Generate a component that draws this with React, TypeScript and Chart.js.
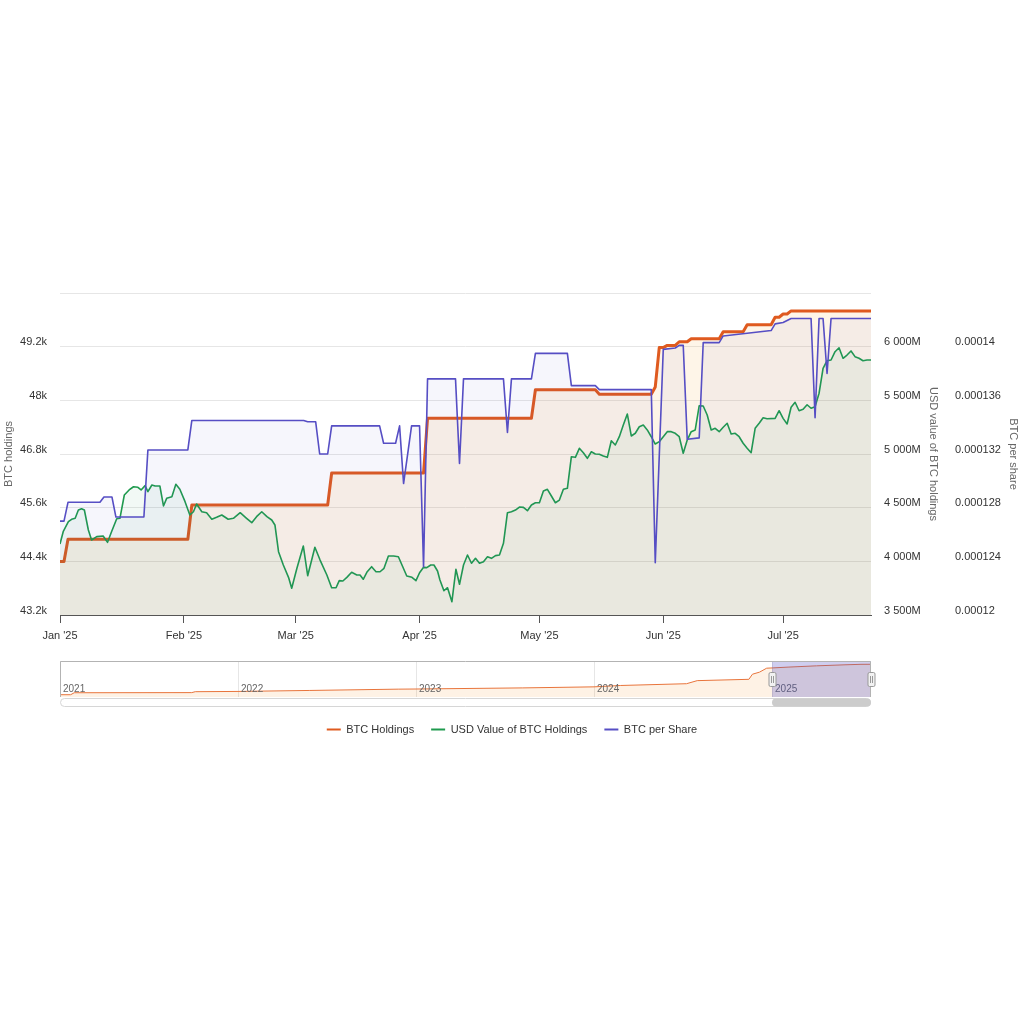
import React, { useEffect, useRef } from 'react';
import { Chart, registerables } from 'chart.js';

Chart.register(...registerables);

const FONT = "'Liberation Sans', Arial, Helvetica, sans-serif";

// x values: days since 1 Jan 2025
const monthStartDays = [0, 31, 59, 90, 120, 151, 181];
const monthLabels = ["Jan '25", "Feb '25", "Mar '25", "Apr '25", "May '25", "Jun '25", "Jul '25"];
const lastDay = 203;

// BTC Holdings (BTC)
const holdingsDays = [0, 1, 2, 32, 33, 67, 68, 91, 92, 118, 119, 134, 135, 148, 149, 150, 151, 152, 154, 155, 157, 158, 165, 166, 171, 172, 178, 179, 180, 181, 182, 183, 203];
const holdingsBtc = [44394, 44394, 44893, 44893, 45659, 45659, 46374, 46374, 47600, 47600, 48237, 48237, 48137, 48137, 48300, 49179, 49179, 49228, 49228, 49310, 49310, 49378, 49378, 49535, 49535, 49690, 49690, 49858, 49858, 49930, 49930, 50000, 50000];

// USD value of BTC holdings (millions)
const usdDays = [0, 0.8, 2.1, 2.9, 3.8, 4.6, 5.4, 6.1, 7.1, 7.9, 9.2, 10.8, 11.9, 12.9, 14.2, 15, 16.1, 17.3, 18.4, 19.5, 20.3, 21.3, 22, 23, 23.8, 25, 25.9, 26.7, 28, 29, 30, 31.3, 32.5, 33.4, 34.2, 35.5, 36.7, 38, 39.2, 40.5, 42.1, 43.4, 45.1, 46.7, 48, 49.2, 50.5, 51.8, 53, 53.8, 54.7, 55.9, 57.2, 58, 59.3, 60.9, 62, 63.8, 65.1, 66.8, 68, 69.1, 69.9, 70.8, 71.8, 73, 74.3, 75.1, 75.9, 76.9, 78, 79.1, 80.1, 81.1, 82.2, 83.5, 84.7, 85.6, 86.8, 88.1, 89.1, 90, 91, 91.8, 92.8, 93.6, 94.5, 95.1, 96.1, 97, 98.1, 99.1, 100, 101, 102, 103, 104, 105, 106, 107, 108, 109, 110, 111, 112, 113, 114, 115, 116, 117, 118, 119, 120, 121, 122, 123, 124, 125, 126, 127, 128, 129, 130, 131, 132, 133, 134, 135, 136, 137, 138, 139, 140, 141, 142, 143, 144, 145, 146, 147, 148, 149, 150, 151, 152, 153, 154, 155, 156, 157, 158, 159, 160, 161, 162, 163, 164, 165, 166, 167, 168, 169, 170, 171, 172, 173, 174, 175, 176, 177, 179, 180, 181, 182, 183, 184, 185, 186, 187, 188, 189, 190, 191, 192, 193, 194, 195, 196, 197, 198, 199, 200, 201, 202, 203];
const usdMillions = [4162, 4276, 4369, 4392, 4401, 4478, 4490, 4478, 4292, 4199, 4230, 4236, 4177, 4276, 4397, 4401, 4618, 4665, 4695, 4690, 4665, 4705, 4649, 4711, 4702, 4702, 4516, 4587, 4602, 4718, 4671, 4556, 4432, 4462, 4534, 4462, 4453, 4392, 4410, 4432, 4392, 4401, 4453, 4401, 4360, 4416, 4462, 4416, 4385, 4339, 4090, 3966, 3851, 3749, 3935, 4143, 3866, 4131, 4012, 3873, 3754, 3754, 3820, 3817, 3851, 3898, 3873, 3873, 3833, 3903, 3950, 3903, 3903, 3935, 4050, 4050, 4043, 3966, 3863, 3851, 3820, 3894, 3944, 3941, 3966, 3966, 3910, 3826, 3726, 3754, 3624, 3926, 3786, 3966, 4059, 3982, 4028, 3982, 3997, 4043, 4028, 4053, 4059, 4168, 4453, 4462, 4478, 4506, 4503, 4472, 4525, 4546, 4546, 4655, 4671, 4609, 4546, 4571, 4671, 4680, 4975, 4969, 5053, 5012, 4960, 5021, 5000, 4997, 4981, 4969, 5124, 5084, 5161, 5270, 5373, 5168, 5193, 5254, 5270, 5224, 5161, 5093, 5115, 5161, 5208, 5208, 5193, 5161, 5007, 5130, 5208, 5224, 5450, 5447, 5363, 5224, 5239, 5208, 5249, 5286, 5186, 5193, 5161, 5100, 5053, 5012, 5239, 5286, 5338, 5329, 5332, 5403, 5332, 5280, 5435, 5482, 5403, 5416, 5459, 5426, 5441, 5566, 5798, 5869, 5876, 5953, 5990, 5892, 5922, 5960, 5907, 5892, 5869, 5876, 5876];

// BTC per share
const perShareDays = [0, 1, 2, 10, 11, 13, 14, 21, 22, 32, 33, 61, 62, 64, 65, 67, 68, 80, 81, 84, 85, 86, 88, 90, 91, 92, 99, 100, 101, 111, 112, 113, 118, 119, 127, 128, 134, 135, 148, 149, 151, 154, 155, 156, 157, 160, 161, 165, 166, 178, 179, 181, 183, 188, 189, 190, 191, 192, 193, 203];
const perShareBtc = [0.0001270, 0.0001270, 0.0001284, 0.0001284, 0.0001288, 0.0001288, 0.0001273, 0.0001273, 0.0001323, 0.0001323, 0.0001345, 0.0001345, 0.0001344, 0.0001344, 0.0001320, 0.0001320, 0.0001341, 0.0001341, 0.0001328, 0.0001328, 0.0001341, 0.0001298, 0.0001341, 0.0001341, 0.0001236, 0.0001376, 0.0001376, 0.0001313, 0.0001376, 0.0001376, 0.0001336, 0.0001376, 0.0001376, 0.0001395, 0.0001395, 0.0001371, 0.0001371, 0.0001368, 0.0001368, 0.0001239, 0.0001398, 0.0001399, 0.0001401, 0.0001401, 0.0001331, 0.0001332, 0.0001403, 0.0001403, 0.0001408, 0.0001412, 0.0001417, 0.0001418, 0.0001421, 0.0001421, 0.0001347, 0.0001421, 0.0001421, 0.0001380, 0.0001421, 0.0001421];

// Axis ticks
const holdTicks = [43200, 44400, 45600, 46800, 48000, 49200, 50400];
const holdTickLabels = ['43.2k', '44.4k', '45.6k', '46.8k', '48k', '49.2k', ''];
const usdTicks = [3500, 4000, 4500, 5000, 5500, 6000, 6500];
const usdTickLabels = ['3 500M', '4 000M', '4 500M', '5 000M', '5 500M', '6 000M', ''];
const perShareTicks = [0.00012, 0.000124, 0.000128, 0.000132, 0.000136, 0.00014, 0.000144];
const perShareTickLabels = ['0.00012', '0.000124', '0.000128', '0.000132', '0.000136', '0.00014', ''];

// Navigator: BTC holdings history (x = fractional year)
const navYears = [2021.0, 2021.06, 2021.08, 2021.74, 2021.76, 2022.0, 2022.4, 2022.9, 2023.0, 2023.6, 2024.0, 2024.15, 2024.52, 2024.58, 2024.87, 2024.89, 2024.93, 2024.97, 2025.0, 2025.09, 2025.25, 2025.41, 2025.5, 2025.556];
const navHoldings = [3500, 3500, 6500, 6700, 8100, 8500, 10000, 12000, 12200, 13900, 15500, 17600, 20300, 25000, 27000, 34800, 38000, 44000, 44394, 45659, 47600, 49179, 49930, 50000];
const navYearTicks = [2021, 2022, 2023, 2024, 2025];
const navYearLabels = ['2021', '2022', '2023', '2024', '2025'];
const navMin = 2021;
const navMax = 2025 + lastDay / 365;
const navSelStart = 2025;

const ORANGE = '#df5a1f';
const GREEN = '#1f9a4e';
const BLUE = '#564ec4';

const navigatorPlugin = {
  id: 'navigatorDecor',
  beforeDatasetsDraw(chart: any) {
    const { ctx, chartArea: ca, scales } = chart;
    ctx.save();
    ctx.strokeStyle = '#e6e6e6';
    ctx.lineWidth = 1;
    navYearTicks.forEach((yr) => {
      const px = Math.round(scales.x.getPixelForValue(yr)) + 0.5;
      ctx.beginPath();
      ctx.moveTo(px, ca.top);
      ctx.lineTo(px, ca.bottom);
      ctx.stroke();
    });
    ctx.restore();
  },
  afterDatasetsDraw(chart: any) {
    const { ctx, chartArea: ca, scales } = chart;
    ctx.save();
    // year labels
    ctx.fillStyle = '#666';
    ctx.font = `10px ${FONT}`;
    ctx.textAlign = 'left';
    ctx.textBaseline = 'middle';
    navYearTicks.forEach((yr, i) => {
      const px = scales.x.getPixelForValue(yr);
      ctx.fillText(navYearLabels[i], px + 3, ca.bottom - 8);
    });
    // selection mask
    const x1 = scales.x.getPixelForValue(navSelStart);
    const x2 = scales.x.getPixelForValue(navMax);
    ctx.fillStyle = 'rgba(84,79,197,0.28)';
    ctx.fillRect(x1, ca.top, x2 - x1, ca.bottom - ca.top);
    // outline
    ctx.strokeStyle = '#b3b3b3';
    ctx.lineWidth = 1;
    ctx.beginPath();
    ctx.moveTo(Math.round(ca.left) + 0.5, ca.bottom);
    ctx.lineTo(Math.round(ca.left) + 0.5, ca.top + 0.5);
    ctx.lineTo(Math.round(ca.right) - 0.5, ca.top + 0.5);
    ctx.lineTo(Math.round(ca.right) - 0.5, ca.bottom);
    ctx.stroke();
    // handles
    const midY = (ca.top + ca.bottom) / 2 + 0.5;
    [x1, x2].forEach((hx) => {
      const cx = Math.round(hx) + 0.5;
      ctx.fillStyle = '#f2f2f2';
      ctx.strokeStyle = '#999';
      ctx.beginPath();
      ctx.roundRect(cx - 3.5, midY - 7, 7, 14, 1.5);
      ctx.fill();
      ctx.stroke();
      ctx.beginPath();
      ctx.moveTo(cx - 1, midY - 3.5);
      ctx.lineTo(cx - 1, midY + 3.5);
      ctx.moveTo(cx + 1, midY - 3.5);
      ctx.lineTo(cx + 1, midY + 3.5);
      ctx.stroke();
    });
    // scrollbar
    const sy = ca.bottom + 1.5;
    ctx.fillStyle = '#ffffff';
    ctx.strokeStyle = '#d6d6d6';
    ctx.beginPath();
    ctx.roundRect(ca.left + 0.5, sy, ca.right - ca.left - 1, 8, 4);
    ctx.fill();
    ctx.stroke();
    ctx.fillStyle = '#cccccc';
    ctx.beginPath();
    ctx.roundRect(x1, sy, x2 - x1, 8, 4);
    ctx.fill();
    ctx.restore();
  },
};

function setTicks(values: number[]) {
  return (scale: any) => {
    scale.ticks = values.map((v) => ({ value: v }));
  };
}

export default function App() {
  const mainRef = useRef<HTMLCanvasElement | null>(null);
  const navRef = useRef<HTMLCanvasElement | null>(null);

  useEffect(() => {
    if (!mainRef.current || !navRef.current) return;
    Chart.defaults.font.family = FONT;

    const main = new Chart(mainRef.current, {
      type: 'line',
      data: {
        datasets: [
          {
            label: 'BTC Holdings',
            data: holdingsDays.map((d, i) => ({ x: d, y: holdingsBtc[i] })),
            yAxisID: 'yHold',
            borderColor: ORANGE,
            borderWidth: 3,
            backgroundColor: 'rgba(250,182,95,0.14)',
            fill: 'start',
            pointRadius: 0,
            borderJoinStyle: 'round',
            order: 3,
          },
          {
            label: 'USD Value of BTC Holdings',
            data: usdDays.map((d, i) => ({ x: d, y: usdMillions[i] })),
            yAxisID: 'yUsd',
            borderColor: GREEN,
            borderWidth: 1.6,
            backgroundColor: 'rgba(34,153,79,0.06)',
            fill: 'start',
            pointRadius: 0,
            borderJoinStyle: 'round',
            order: 2,
          },
          {
            label: 'BTC per Share',
            data: perShareDays.map((d, i) => ({ x: d, y: perShareBtc[i] })),
            yAxisID: 'yPer',
            borderColor: BLUE,
            borderWidth: 1.6,
            backgroundColor: 'rgba(84,79,197,0.05)',
            fill: 'start',
            pointRadius: 0,
            borderJoinStyle: 'round',
            order: 1,
          },
        ],
      },
      options: {
        animation: false,
        responsive: false,
        maintainAspectRatio: false,
        devicePixelRatio: 1,
        events: [],
        layout: { padding: { top: 293, left: 0, right: 0, bottom: 0 } },
        plugins: {
          tooltip: { enabled: false },
          legend: {
            position: 'bottom',
            align: 'center',
            labels: {
              usePointStyle: true,
              pointStyle: 'line',
              pointStyleWidth: 14,
              boxHeight: 11,
              padding: 17,
              color: '#333',
              font: { size: 11, family: FONT },
              sort: (a: any, b: any) => a.datasetIndex - b.datasetIndex,
              generateLabels: (chart: any) =>
                Chart.defaults.plugins.legend.labels
                  .generateLabels(chart)
                  .map((l: any) => ({ ...l, lineWidth: 2, pointStyle: 'line' })),
            },
          },
        },
        scales: {
          x: {
            type: 'linear',
            min: 0,
            max: lastDay,
            afterBuildTicks: setTicks(monthStartDays),
            afterFit: (s: any) => {
              s.height = 92;
            },
            ticks: {
              autoSkip: false,
              maxRotation: 0,
              padding: 6,
              color: '#333',
              font: { size: 11 },
              callback: (_v: any, i: number) => monthLabels[i],
            },
            grid: { drawOnChartArea: false, drawTicks: true, tickLength: 8, color: '#555' },
            border: { display: true, color: '#555', width: 1 },
          },
          yHold: {
            type: 'linear',
            position: 'left',
            min: holdTicks[0],
            max: holdTicks[holdTicks.length - 1],
            afterBuildTicks: setTicks(holdTicks),
            afterFit: (s: any) => {
              s.width = 60;
            },
            ticks: {
              padding: 13,
              labelOffset: -4.5,
              color: '#333',
              font: { size: 11 },
              callback: (_v: any, i: number) => holdTickLabels[i],
            },
            grid: { color: '#e6e6e6', drawTicks: false },
            border: { display: false },
            title: {
              display: true,
              text: 'BTC holdings',
              color: '#666',
              font: { size: 11 },
              padding: { top: 2, bottom: 0 },
            },
          },
          yUsd: {
            type: 'linear',
            position: 'right',
            weight: 0,
            min: usdTicks[0],
            max: usdTicks[usdTicks.length - 1],
            afterBuildTicks: setTicks(usdTicks),
            afterFit: (s: any) => {
              s.width = 75;
            },
            ticks: {
              padding: 13,
              labelOffset: -4.5,
              color: '#333',
              font: { size: 11 },
              callback: (_v: any, i: number) => usdTickLabels[i],
            },
            grid: { drawOnChartArea: false, drawTicks: false },
            border: { display: false },
            title: {
              display: true,
              text: 'USD value of BTC holdings',
              color: '#666',
              font: { size: 11 },
              padding: { top: 6, bottom: 0 },
            },
          },
          yPer: {
            type: 'linear',
            position: 'right',
            weight: 1,
            min: perShareTicks[0],
            max: perShareTicks[perShareTicks.length - 1],
            afterBuildTicks: setTicks(perShareTicks),
            afterFit: (s: any) => {
              s.width = 78;
            },
            ticks: {
              padding: 9,
              labelOffset: -4.5,
              color: '#333',
              font: { size: 11 },
              callback: (_v: any, i: number) => perShareTickLabels[i],
            },
            grid: { drawOnChartArea: false, drawTicks: false },
            border: { display: false },
            title: {
              display: true,
              text: 'BTC per share',
              color: '#666',
              font: { size: 11 },
              padding: { top: 4, bottom: 0 },
            },
          },
        },
      } as any,
    });

    const nav = new Chart(navRef.current, {
      type: 'line',
      data: {
        datasets: [
          {
            label: 'BTC Holdings (navigator)',
            data: navYears.map((yr, i) => ({ x: yr, y: navHoldings[i] })),
            borderColor: '#e8743b',
            borderWidth: 1,
            backgroundColor: 'rgba(250,170,80,0.15)',
            fill: 'start',
            pointRadius: 0,
          },
        ],
      },
      options: {
        animation: false,
        responsive: false,
        maintainAspectRatio: false,
        devicePixelRatio: 1,
        events: [],
        layout: { padding: { left: 60, right: 153, top: 11, bottom: 15 } },
        plugins: { legend: { display: false }, tooltip: { enabled: false } },
        scales: {
          x: { type: 'linear', display: false, min: navMin, max: navMax },
          y: { type: 'linear', display: false, min: 0, max: 55000 },
        },
      } as any,
      plugins: [navigatorPlugin],
    });

    return () => {
      main.destroy();
      nav.destroy();
    };
  }, []);

  return (
    <div style={{ position: 'absolute', left: 0, top: 0, width: 1024, height: 1024, background: '#fff' }}>
      <canvas ref={mainRef} width={1024} height={745} style={{ position: 'absolute', left: 0, top: 0 }} />
      <canvas ref={navRef} width={1024} height={62} style={{ position: 'absolute', left: 0, top: 650 }} />
    </div>
  );
}
